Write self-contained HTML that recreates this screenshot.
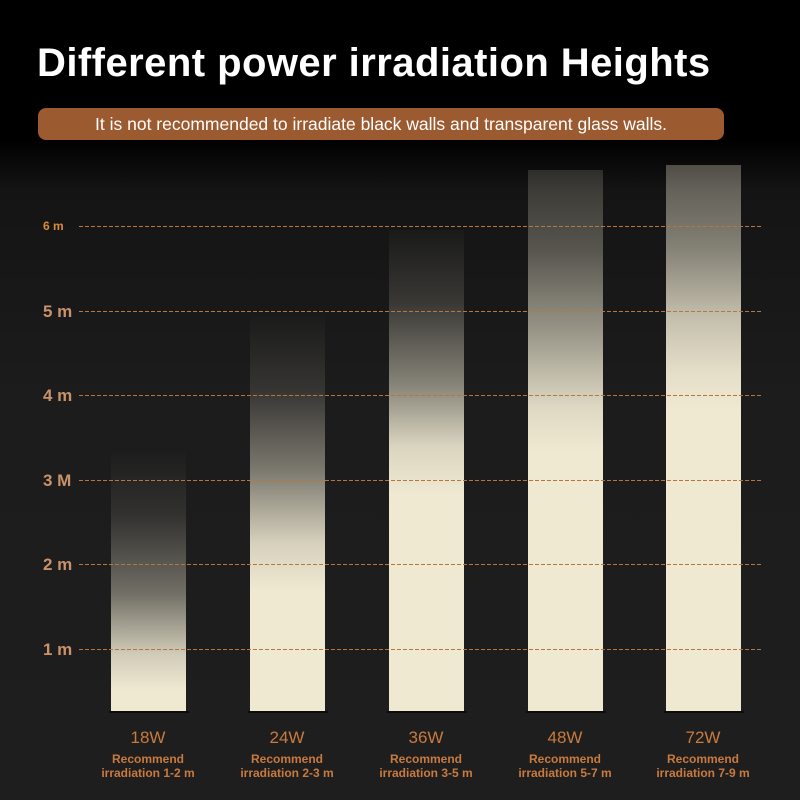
<!DOCTYPE html>
<html><head><style>
body{margin:0;width:800px;height:800px;overflow:hidden;background:linear-gradient(#000 0px,#000 140px,#141414 190px,#1c1c1c 400px,#1e1e1e 800px);font-family:"Liberation Sans",sans-serif;position:relative}
.t{position:absolute;left:37px;top:41px;color:#fff;font-size:40px;font-weight:bold;letter-spacing:0.45px}
.p{position:absolute;left:38px;top:108px;width:686px;height:32px;border-radius:8px;background:#9c5a30;color:#fff;font-size:17.5px;line-height:32px;text-align:center}
.d{position:absolute;left:79px;width:684px;background:repeating-linear-gradient(90deg,#b8763e 0 4px,transparent 4px 6px);height:1px}
.l{position:absolute;left:43px;color:#c8926a;font-weight:bold;font-size:17px}
.b{position:absolute;width:75px;bottom:89px}
.base{position:absolute;top:711px;width:80px;height:2px;background:#0c0c0c}
.w{position:absolute;top:728px;width:140px;text-align:center;color:#c97a3e;font-size:17px}
.r{position:absolute;top:752px;width:140px;text-align:center;color:#c97a3e;font-size:12px;font-weight:bold;line-height:14px}
</style></head><body>
<div class="t">Different power irradiation Heights</div>
<div class="p">It is not recommended to irradiate black walls and transparent glass walls.</div>
<div class="b" style="left:111px;top:450px;background:linear-gradient(rgba(239,233,210,0),rgba(239,233,210,0.1) 25%,rgba(239,233,210,0.4) 55%,rgba(239,233,210,0.85) 78%,#efe9d2 92%)"></div>
<div class="b" style="left:250px;top:310px;background:linear-gradient(rgba(239,233,210,0),rgba(239,233,210,0.12) 20%,rgba(239,233,210,0.45) 40%,rgba(239,233,210,0.88) 58%,#efe9d2 70%)"></div>
<div class="b" style="left:389px;top:230px;background:linear-gradient(rgba(239,233,210,0.02),rgba(239,233,210,0.15) 15%,rgba(239,233,210,0.5) 32%,rgba(239,233,210,0.9) 45%,#efe9d2 55%)"></div>
<div class="b" style="left:528px;top:170px;background:linear-gradient(rgba(239,233,210,0.15),rgba(239,233,210,0.3) 15%,rgba(239,233,210,0.6) 30%,rgba(239,233,210,0.92) 44%,#efe9d2 52%)"></div>
<div class="b" style="left:666px;top:165px;background:linear-gradient(rgba(239,233,210,0.3),rgba(239,233,210,0.5) 15%,rgba(239,233,210,0.8) 28%,rgba(239,233,210,0.95) 38%,#efe9d2 45%)"></div>
<div class="d" style="top:226px"></div><div class="d" style="top:311px"></div><div class="d" style="top:395px"></div><div class="d" style="top:480px"></div><div class="d" style="top:564px"></div><div class="d" style="top:649px"></div>
<div class="l" style="top:219px;font-size:12px;color:#d98a3a">6 m</div>
<div class="l" style="top:302px">5 m</div><div class="l" style="top:386px">4 m</div><div class="l" style="top:471px">3 M</div><div class="l" style="top:555px">2 m</div><div class="l" style="top:640px">1 m</div>
<div class="base" style="left:109px"></div><div class="base" style="left:248px"></div><div class="base" style="left:387px"></div><div class="base" style="left:526px"></div><div class="base" style="left:664px"></div>
<div class="w" style="left:78px">18W</div><div class="w" style="left:217px">24W</div><div class="w" style="left:356px">36W</div><div class="w" style="left:495px">48W</div><div class="w" style="left:633px">72W</div>
<div class="r" style="left:78px">Recommend<br>irradiation 1-2 m</div>
<div class="r" style="left:217px">Recommend<br>irradiation 2-3 m</div>
<div class="r" style="left:356px">Recommend<br>irradiation 3-5 m</div>
<div class="r" style="left:495px">Recommend<br>irradiation 5-7 m</div>
<div class="r" style="left:633px">Recommend<br>irradiation 7-9 m</div>
</body></html>
